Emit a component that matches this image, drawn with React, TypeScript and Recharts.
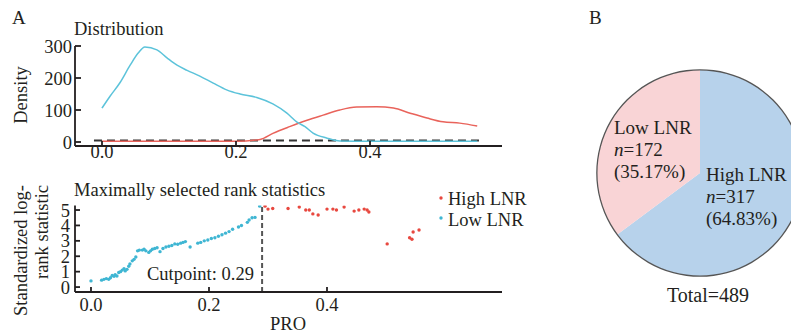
import React from 'react';
import {
  Cell,
  Legend,
  Line,
  LineChart,
  Pie,
  PieChart,
  ReferenceLine,
  Scatter,
  ScatterChart,
  XAxis,
  YAxis,
} from 'recharts';

const FONT = '"Liberation Serif", "Times New Roman", serif';
const INK = '#231f20';
const RED = '#e8483f';
const BLUE = '#3fb6d3';

// Panel A, top: density of PRO per group
const lowDensX = [0, 0.012, 0.027, 0.042, 0.054, 0.064, 0.082, 0.097, 0.112, 0.127, 0.146, 0.166, 0.186, 0.206, 0.231, 0.255, 0.276, 0.291, 0.303, 0.315, 0.336, 0.355, 0.4, 0.45, 0.5, 0.56];
const lowDensY = [106, 143, 186, 240, 278, 297, 288, 263, 240, 224, 206, 184, 163, 150, 139, 119, 90, 62, 48, 28, 12, 3, 2, 2, 2, 2];
const highDensX = [0, 0.05, 0.1, 0.15, 0.2, 0.236, 0.255, 0.28, 0.306, 0.33, 0.355, 0.38, 0.41, 0.435, 0.46, 0.485, 0.509, 0.534, 0.56];
const highDensY = [2, 2, 2, 2, 2, 8, 27, 48, 68, 84, 100, 109, 110, 106, 90, 75, 63, 59, 50];
const rugX = [-0.012, 0.568];
const rugY = [5, 5];
const densTicksX = [0, 0.2, 0.4];
const densTicksY = [0, 100, 200, 300];

// Panel A, bottom: standardized log-rank statistic per cutpoint
const lowStatX = [0, 0.018, 0.022, 0.026, 0.03, 0.033, 0.036, 0.039, 0.041, 0.044, 0.047, 0.05, 0.053, 0.056, 0.058, 0.061, 0.064, 0.066, 0.07, 0.073, 0.076, 0.079, 0.082, 0.087, 0.09, 0.093, 0.098, 0.101, 0.104, 0.108, 0.112, 0.117, 0.122, 0.127, 0.132, 0.137, 0.142, 0.147, 0.152, 0.156, 0.16, 0.168, 0.181, 0.186, 0.192, 0.198, 0.204, 0.21, 0.216, 0.222, 0.228, 0.234, 0.24, 0.25, 0.255, 0.265, 0.268, 0.273, 0.278, 0.286];
const lowStatY = [0.4, 0.45, 0.5, 0.55, 0.5, 0.6, 0.75, 0.7, 0.8, 0.72, 0.95, 1.0, 1.1, 1.2, 1.05, 1.15, 1.35, 1.5, 1.7, 1.8, 1.95, 2.35, 2.4, 2.4, 2.45, 2.35, 2.25, 2.35, 2.45, 2.5, 2.55, 2.3, 2.5, 2.6, 2.65, 2.7, 2.8, 2.78, 2.85, 2.9, 2.95, 2.6, 2.85, 2.9, 3.0, 3.05, 3.15, 3.2, 3.3, 3.4, 3.5, 3.6, 3.75, 3.9, 4.0, 4.2, 4.35, 4.5, 4.52, 5.25];
const highStatX = [0.295, 0.3, 0.308, 0.334, 0.353, 0.364, 0.37, 0.376, 0.385, 0.4, 0.41, 0.416, 0.429, 0.446, 0.454, 0.463, 0.468, 0.471, 0.502, 0.54, 0.544, 0.546, 0.556];
const highStatY = [5.25, 5.06, 5.1, 5.1, 5.2, 5.0, 5.0, 4.75, 4.68, 5.06, 5.06, 5.0, 5.2, 4.93, 5.0, 5.06, 5.0, 4.87, 2.8, 3.2, 3.1, 3.57, 3.7];
const cutpoint = 0.29;
const statTicksX = [0, 0.2, 0.4];
const statTicksY = [0, 1, 2, 3, 4, 5];

// Panel B: group sizes
const groupNames = ['High LNR', 'Low LNR'];
const groupCounts = [317, 172];
const groupPcts = ['64.83%', '35.17%'];
const groupColors = ['#b7d2eb', '#f9d4d6'];
const total = 489;

const zip = (xs: number[], ys: number[]) => xs.map((x, i) => ({ x, y: ys[i] }));

const tickStyle = { fontSize: 18.5, fill: INK, fontFamily: FONT };
const axisStyle = { stroke: INK, strokeWidth: 1.8 };

function Dot(props: any) {
  const { cx, cy, fill } = props;
  if (cx == null || cy == null) return null;
  return <circle cx={cx} cy={cy} r={1.7} fill={fill} />;
}

function StatLegend({ payload }: any) {
  const items = payload || [];
  return (
    <svg width={110} height={56}>
      {items.map((it: any, i: number) => (
        <g key={it.value}>
          <circle cx={11} cy={18 + i * 20} r={1.7} fill={it.color} />
          <text x={18} y={25 + i * 21} fontSize={18.5} fontFamily={FONT} fill={INK}>
            {it.value}
          </text>
        </g>
      ))}
    </svg>
  );
}

function PieLabel(props: any) {
  const { cx, cy, midAngle, outerRadius } = props;
  const rad = Math.PI / 180;
  const x = cx + outerRadius * 0.5 * Math.cos(-midAngle * rad);
  const y = cy + outerRadius * 0.5 * Math.sin(-midAngle * rad);
  const left = x - 40;
  const p = props.payload || props;
  return (
    <text x={left} y={y + 6.5 - 22} fontSize={19} fontFamily={FONT} fill={INK}>
      <tspan x={left} dy={0}>{p.name}</tspan>
      <tspan x={left} dy={22}>
        <tspan fontStyle="italic">n</tspan>={p.value}
      </tspan>
      <tspan x={left} dy={22}>({p.pct})</tspan>
    </text>
  );
}

export default function App() {
  const lowDens = zip(lowDensX, lowDensY);
  const highDens = zip(highDensX, highDensY);
  const rug = zip(rugX, rugY);
  const lowStat = zip(lowStatX, lowStatY);
  const highStat = zip(highStatX, highStatY);
  const pieData = groupNames.map((name, i) => ({ name, value: groupCounts[i], pct: groupPcts[i] }));

  return (
    <div
      style={{
        position: 'absolute',
        left: 0,
        top: 0,
        width: 791,
        height: 335,
        background: '#fff',
        fontFamily: FONT,
      }}
    >
      <div style={{ position: 'absolute', left: 0, top: 0 }}>
        <LineChart width={520} height={170} margin={{ top: 46, right: 18, bottom: 0, left: 0 }}>
          <XAxis
            type="number"
            dataKey="x"
            domain={[-0.0403, 0.597]}
            allowDataOverflow
            ticks={densTicksX}
            interval={0}
            tickFormatter={(v: number) => v.toFixed(1)}
            height={24}
            tick={tickStyle}
            tickSize={-5}
            tickMargin={4}
            axisLine={axisStyle}
            tickLine={axisStyle}
          />
          <YAxis
            type="number"
            dataKey="y"
            domain={[-12.5, 300]}
            allowDataOverflow
            ticks={densTicksY}
            interval={0}
            width={75}
            tick={tickStyle}
            tickSize={-6}
            tickMargin={9}
            axisLine={axisStyle}
            tickLine={axisStyle}
          />
          <Line data={rug} dataKey="y" stroke="#333" strokeWidth={2} strokeDasharray="8 5" dot={false} isAnimationActive={false} />
          <Line data={highDens} dataKey="y" type="monotone" stroke="#e9635b" strokeWidth={1.5} dot={false} isAnimationActive={false} />
          <Line data={lowDens} dataKey="y" type="monotone" stroke="#5cc3da" strokeWidth={1.5} dot={false} isAnimationActive={false} />
        </LineChart>
      </div>

      <div style={{ position: 'absolute', left: 0, top: 170 }}>
        <ScatterChart width={520} height={165} margin={{ top: 35.4, right: 18, bottom: 0, left: 0 }}>
          <XAxis
            type="number"
            dataKey="x"
            domain={[-0.0271, 0.6966]}
            allowDataOverflow
            ticks={statTicksX}
            interval={0}
            tickFormatter={(v: number) => v.toFixed(1)}
            height={43}
            tick={tickStyle}
            tickSize={-5}
            tickMargin={11}
            axisLine={axisStyle}
            tickLine={axisStyle}
          />
          <YAxis
            type="number"
            dataKey="y"
            domain={[-0.32, 5.3]}
            allowDataOverflow
            ticks={statTicksY}
            interval={0}
            width={75}
            tick={tickStyle}
            tickSize={-5}
            tickMargin={10}
            axisLine={axisStyle}
            tickLine={axisStyle}
          />
          <ReferenceLine x={cutpoint} stroke="#555" strokeWidth={2} strokeDasharray="5 3" />
          <Scatter name="High LNR" data={highStat} fill={RED} shape={<Dot />} isAnimationActive={false} />
          <Scatter name="Low LNR" data={lowStat} fill={BLUE} shape={<Dot />} isAnimationActive={false} />
          <Legend
            layout="horizontal"
            align="center"
            verticalAlign="middle"
            content={<StatLegend />}
            wrapperStyle={{ left: 430, top: 10, width: 110, height: 56 }}
          />
        </ScatterChart>
      </div>

      <div style={{ position: 'absolute', left: 520, top: 0 }}>
        <PieChart width={271} height={335} margin={{ top: 0, right: 0, bottom: 0, left: 0 }}>
          <Pie
            data={pieData}
            dataKey="value"
            cx={180}
            cy={173}
            outerRadius={103}
            startAngle={90}
            endAngle={-270}
            stroke="none"
            label={<PieLabel />}
            labelLine={false}
            isAnimationActive={false}
          >
            {pieData.map((d, i) => (
              <Cell key={d.name} fill={groupColors[i]} stroke="none" />
            ))}
          </Pie>
          <Pie
            data={[{ name: 'rim', value: total }]}
            dataKey="value"
            cx={180}
            cy={173}
            innerRadius={102.5}
            outerRadius={103.8}
            startAngle={90}
            endAngle={-270}
            fill="#555"
            stroke="none"
            label={false}
            labelLine={false}
            isAnimationActive={false}
          />
        </PieChart>
      </div>

      <svg
        width={791}
        height={335}
        style={{ position: 'absolute', left: 0, top: 0, pointerEvents: 'none' }}
        fontFamily={FONT}
        fill={INK}
      >
        <text x={12} y={24} fontSize={19}>A</text>
        <text x={589} y={24} fontSize={19}>B</text>
        <text x={74} y={35} fontSize={18.5}>Distribution</text>
        <text transform="translate(27,95) rotate(-90)" textAnchor="middle" fontSize={18.5}>Density</text>
        <text x={74} y={196} fontSize={18.5}>Maximally selected rank statistics</text>
        <text transform="translate(27,185) rotate(-90)" textAnchor="end" fontSize={18.5}>Standardized log-</text>
        <text transform="translate(48,185) rotate(-90)" textAnchor="end" fontSize={18.5}>rank statistic</text>
        <text x={147} y={280} fontSize={18.5}>Cutpoint: {cutpoint.toFixed(2)}</text>
        <text x={288} y={330} textAnchor="middle" fontSize={18.5}>PRO</text>
        <text x={708} y={302} textAnchor="middle" fontSize={20}>Total={total}</text>
      </svg>
    </div>
  );
}
